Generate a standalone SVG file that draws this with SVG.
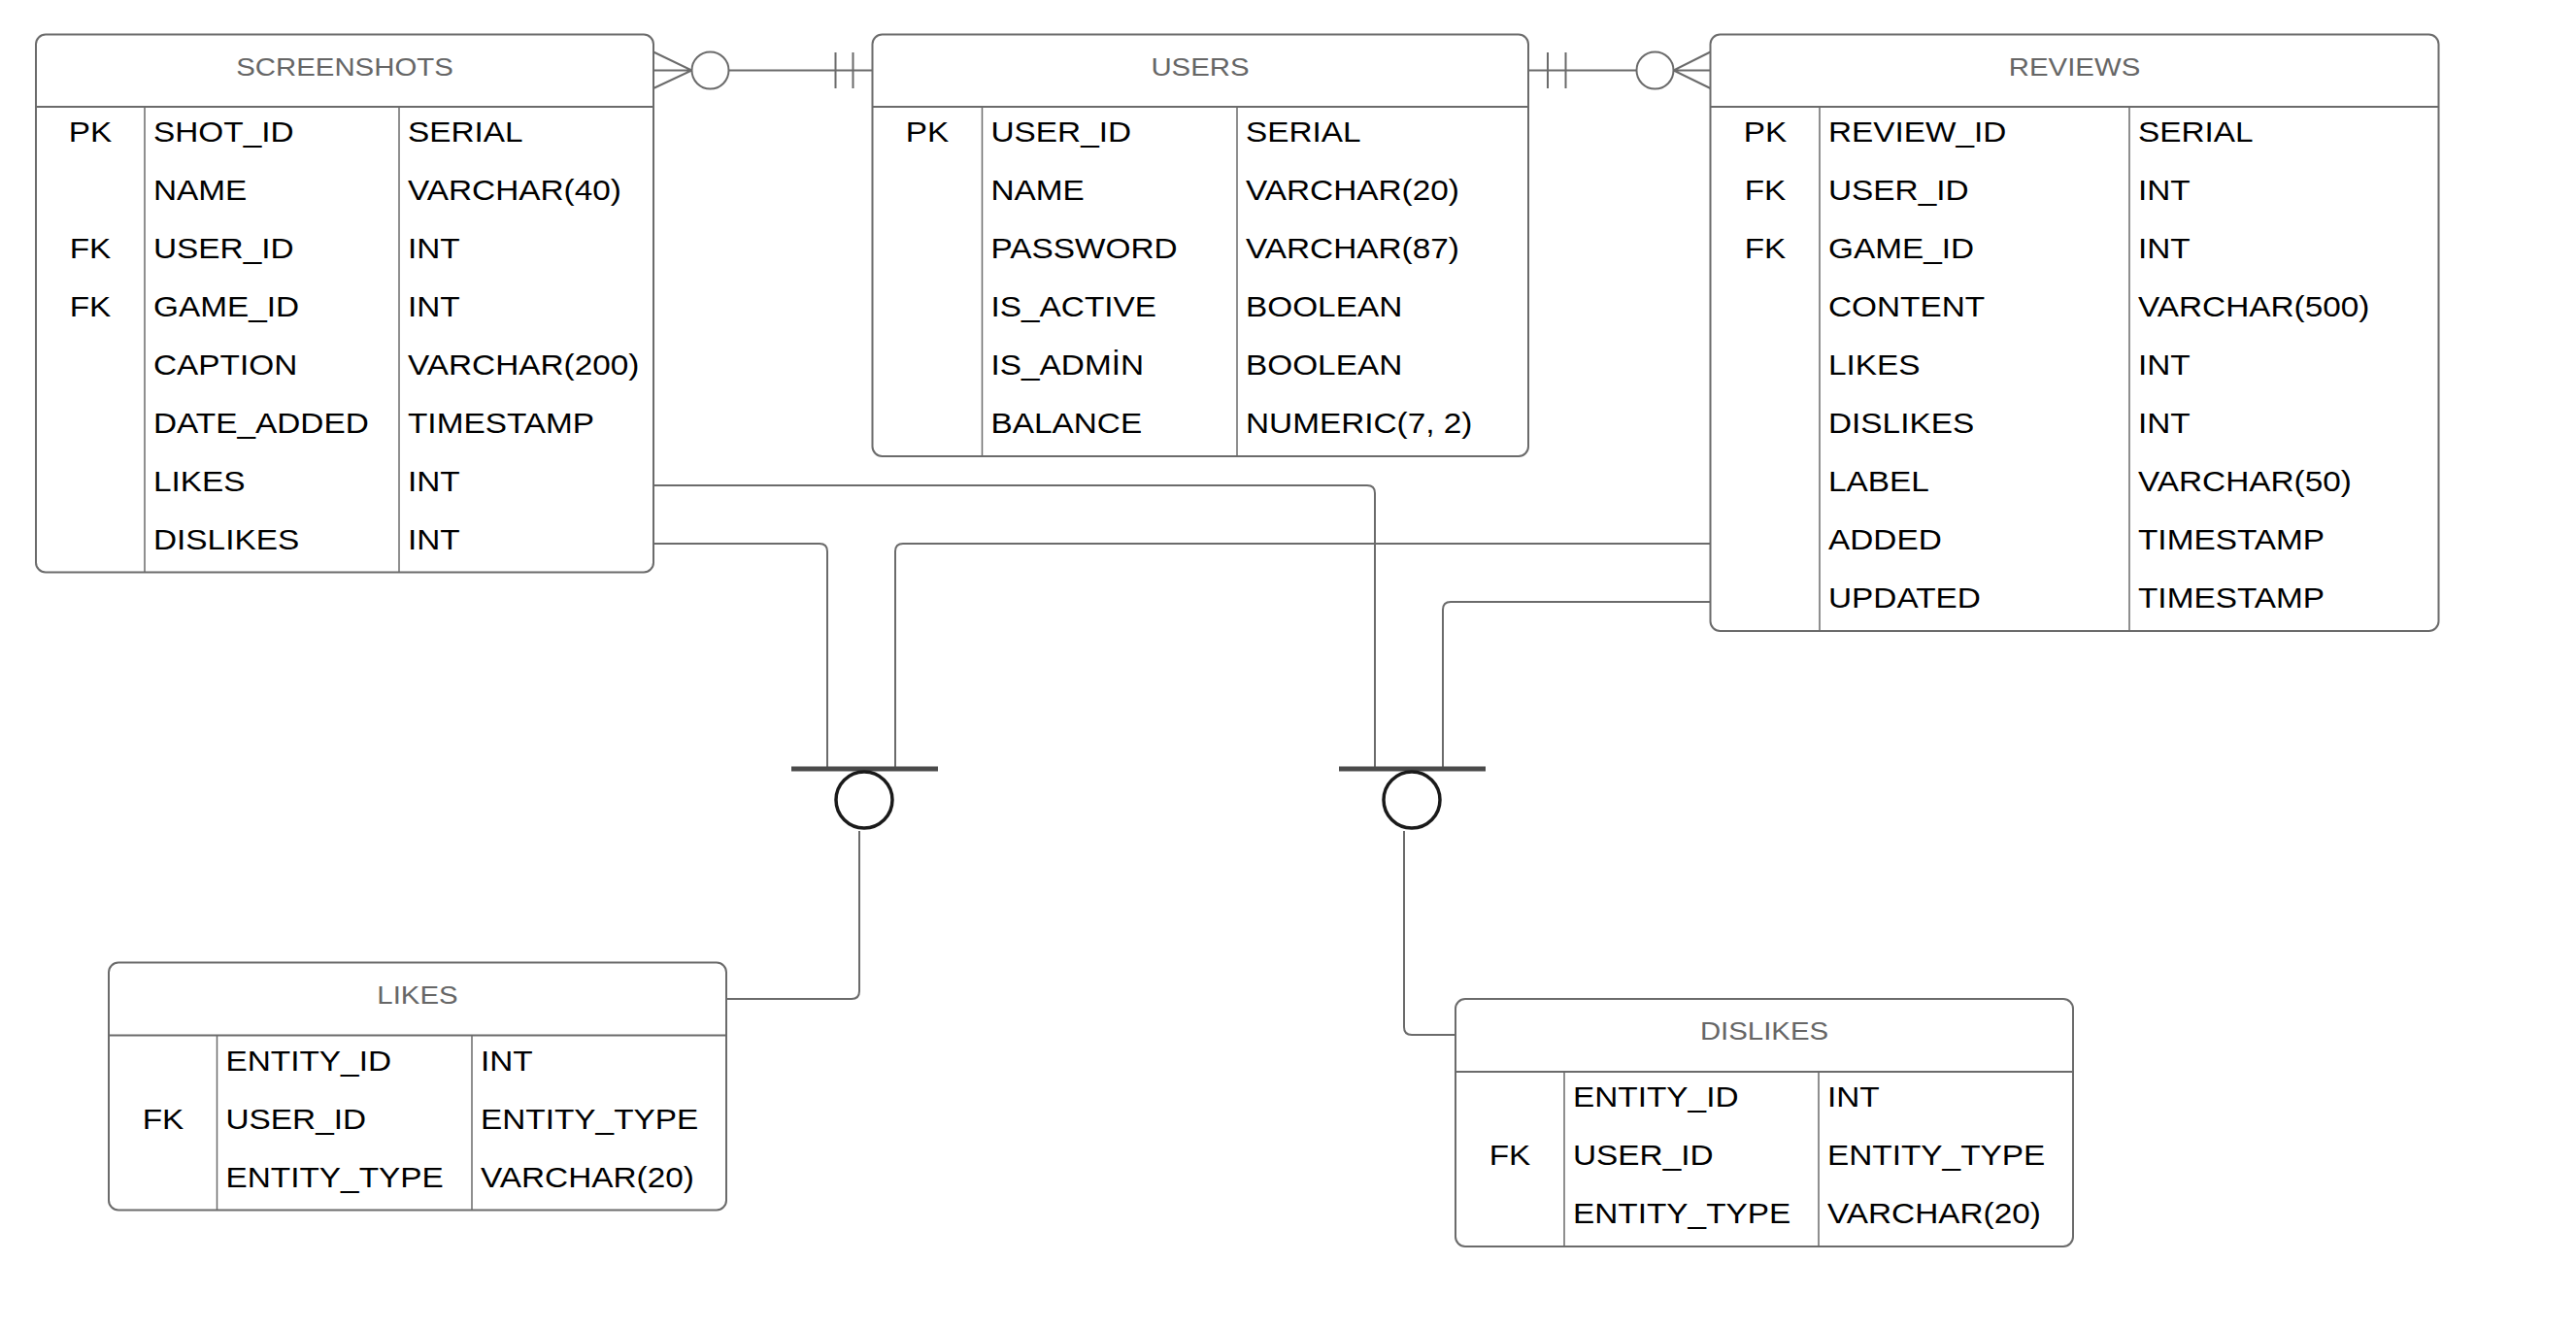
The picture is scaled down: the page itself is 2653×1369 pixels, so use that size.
<svg xmlns="http://www.w3.org/2000/svg" width="2653" height="1369" viewBox="0 0 2653 1369">
<style>
.box{fill:#fff;stroke:#6b6b6b;stroke-width:2}
.div{stroke:#6b6b6b;stroke-width:2;fill:none}
.col{stroke:#6b6b6b;stroke-width:1.5;fill:none}
.hd{font-family:"Liberation Sans",Arial,sans-serif;font-size:26px;fill:#666;text-anchor:middle}
.rw{font-family:"Liberation Sans",Arial,sans-serif;font-size:29px;fill:#000}
.mid{text-anchor:middle}
.ln{fill:none;stroke:#6b6b6b;stroke-width:2}
.bar{fill:none;stroke:#4a4a4a;stroke-width:5}
.jc{fill:#fff;stroke:#1a1a1a;stroke-width:3.5}
.oc{fill:#fff;stroke:#6b6b6b;stroke-width:2}
</style>
<rect width="2653" height="1369" fill="#fff"/>

<g id="connectors">
  <!-- SCREENSHOTS - USERS -->
  <path class="ln" d="M673 53.5 L712.5 72.5 L673 91 M673 72.5 H712.5 M750.5 72.5 H898.5 M860.5 54 V91 M878.5 54 V91"/>
  <circle class="oc" cx="731.5" cy="72.5" r="19"/>
  <!-- USERS - REVIEWS -->
  <path class="ln" d="M1574 72.5 H1685.5 M1594 54 V91 M1612.5 54 V91 M1761.5 53.5 L1723.5 72.5 L1761.5 91 M1723.5 72.5 H1761.5"/>
  <circle class="oc" cx="1704.5" cy="72.5" r="19"/>
  <!-- to junctions -->
  <path class="ln" d="M673 500 H1408 Q1416 500 1416 508 V792"/>
  <path class="ln" d="M673 560 H844 Q852 560 852 568 V792"/>
  <path class="ln" d="M1761.5 560 H930 Q922 560 922 568 V792"/>
  <path class="ln" d="M1761.5 620 H1494 Q1486 620 1486 628 V792"/>
  <path class="ln" d="M885 856 V1021 Q885 1029 877 1029 H748"/>
  <path class="ln" d="M1446 856 V1058 Q1446 1066 1454 1066 H1499"/>
  <!-- junction symbols -->
  <line class="bar" x1="815" y1="792" x2="966" y2="792"/>
  <circle class="jc" cx="890" cy="824" r="29"/>
  <line class="bar" x1="1379" y1="792" x2="1530" y2="792"/>
  <circle class="jc" cx="1454" cy="824" r="29"/>
</g>

<g id="screenshots">
  <rect class="box" x="37" y="35.5" width="636" height="554" rx="10"/>
  <line class="div" x1="37" y1="110" x2="673" y2="110"/>
  <path class="col" d="M149 110 V589.5 M411 110 V589.5"/>
  <g transform="translate(355 0) scale(1.13 1)"><text class="hd" y="78">SCREENSHOTS</text></g>
  <g transform="translate(93 0) scale(1.15 1)" class="rw mid">
    <text y="146.5">PK</text><text y="266.5">FK</text><text y="326.5">FK</text>
  </g>
  <g transform="translate(158 0) scale(1.15 1)" class="rw">
    <text y="146.5">SHOT_ID</text><text y="206.5">NAME</text><text y="266.5">USER_ID</text><text y="326.5">GAME_ID</text>
    <text y="386.5">CAPTION</text><text y="446.5">DATE_ADDED</text><text y="506.5">LIKES</text><text y="566.5">DISLIKES</text>
  </g>
  <g transform="translate(420 0) scale(1.15 1)" class="rw">
    <text y="146.5">SERIAL</text><text y="206.5">VARCHAR(40)</text><text y="266.5">INT</text><text y="326.5">INT</text>
    <text y="386.5">VARCHAR(200)</text><text y="446.5">TIMESTAMP</text><text y="506.5">INT</text><text y="566.5">INT</text>
  </g>
</g>

<g id="users">
  <rect class="box" x="898.5" y="35.5" width="675.5" height="434.5" rx="10"/>
  <line class="div" x1="898.5" y1="110" x2="1574" y2="110"/>
  <path class="col" d="M1011.5 110 V470 M1274 110 V470"/>
  <g transform="translate(1236 0) scale(1.13 1)"><text class="hd" y="78">USERS</text></g>
  <g transform="translate(955 0) scale(1.15 1)" class="rw mid">
    <text y="146.5">PK</text>
  </g>
  <g transform="translate(1020.5 0) scale(1.15 1)" class="rw">
    <text y="146.5">USER_ID</text><text y="206.5">NAME</text><text y="266.5">PASSWORD</text>
    <text y="326.5">IS_ACTIVE</text><text y="386.5">IS_ADMİN</text><text y="446.5">BALANCE</text>
  </g>
  <g transform="translate(1283 0) scale(1.15 1)" class="rw">
    <text y="146.5">SERIAL</text><text y="206.5">VARCHAR(20)</text><text y="266.5">VARCHAR(87)</text>
    <text y="326.5">BOOLEAN</text><text y="386.5">BOOLEAN</text><text y="446.5">NUMERIC(7, 2)</text>
  </g>
</g>

<g id="reviews">
  <rect class="box" x="1761.5" y="35.5" width="750" height="614.5" rx="10"/>
  <line class="div" x1="1761.5" y1="110" x2="2511.5" y2="110"/>
  <path class="col" d="M1874 110 V650 M2193 110 V650"/>
  <g transform="translate(2136.5 0) scale(1.13 1)"><text class="hd" y="78">REVIEWS</text></g>
  <g transform="translate(1818 0) scale(1.15 1)" class="rw mid">
    <text y="146.5">PK</text><text y="206.5">FK</text><text y="266.5">FK</text>
  </g>
  <g transform="translate(1883 0) scale(1.15 1)" class="rw">
    <text y="146.5">REVIEW_ID</text><text y="206.5">USER_ID</text><text y="266.5">GAME_ID</text>
    <text y="326.5">CONTENT</text><text y="386.5">LIKES</text><text y="446.5">DISLIKES</text>
    <text y="506.5">LABEL</text><text y="566.5">ADDED</text><text y="626.5">UPDATED</text>
  </g>
  <g transform="translate(2202 0) scale(1.15 1)" class="rw">
    <text y="146.5">SERIAL</text><text y="206.5">INT</text><text y="266.5">INT</text>
    <text y="326.5">VARCHAR(500)</text><text y="386.5">INT</text><text y="446.5">INT</text>
    <text y="506.5">VARCHAR(50)</text><text y="566.5">TIMESTAMP</text><text y="626.5">TIMESTAMP</text>
  </g>
</g>

<g id="likes">
  <rect class="box" x="112" y="991.5" width="636" height="255" rx="10"/>
  <line class="div" x1="112" y1="1066.5" x2="748" y2="1066.5"/>
  <path class="col" d="M223.5 1066.5 V1246.5 M486 1066.5 V1246.5"/>
  <g transform="translate(430 0) scale(1.13 1)"><text class="hd" y="1034">LIKES</text></g>
  <g transform="translate(168 0) scale(1.15 1)" class="rw mid">
    <text y="1163">FK</text>
  </g>
  <g transform="translate(232.5 0) scale(1.15 1)" class="rw">
    <text y="1103">ENTITY_ID</text><text y="1163">USER_ID</text><text y="1223">ENTITY_TYPE</text>
  </g>
  <g transform="translate(495 0) scale(1.15 1)" class="rw">
    <text y="1103">INT</text><text y="1163">ENTITY_TYPE</text><text y="1223">VARCHAR(20)</text>
  </g>
</g>

<g id="dislikes">
  <rect class="box" x="1499" y="1029" width="636" height="255" rx="10"/>
  <line class="div" x1="1499" y1="1104" x2="2135" y2="1104"/>
  <path class="col" d="M1611 1104 V1284 M1873 1104 V1284"/>
  <g transform="translate(1817 0) scale(1.13 1)"><text class="hd" y="1071.5">DISLIKES</text></g>
  <g transform="translate(1555 0) scale(1.15 1)" class="rw mid">
    <text y="1200.5">FK</text>
  </g>
  <g transform="translate(1620 0) scale(1.15 1)" class="rw">
    <text y="1140.5">ENTITY_ID</text><text y="1200.5">USER_ID</text><text y="1260.5">ENTITY_TYPE</text>
  </g>
  <g transform="translate(1882 0) scale(1.15 1)" class="rw">
    <text y="1140.5">INT</text><text y="1200.5">ENTITY_TYPE</text><text y="1260.5">VARCHAR(20)</text>
  </g>
</g>
</svg>
